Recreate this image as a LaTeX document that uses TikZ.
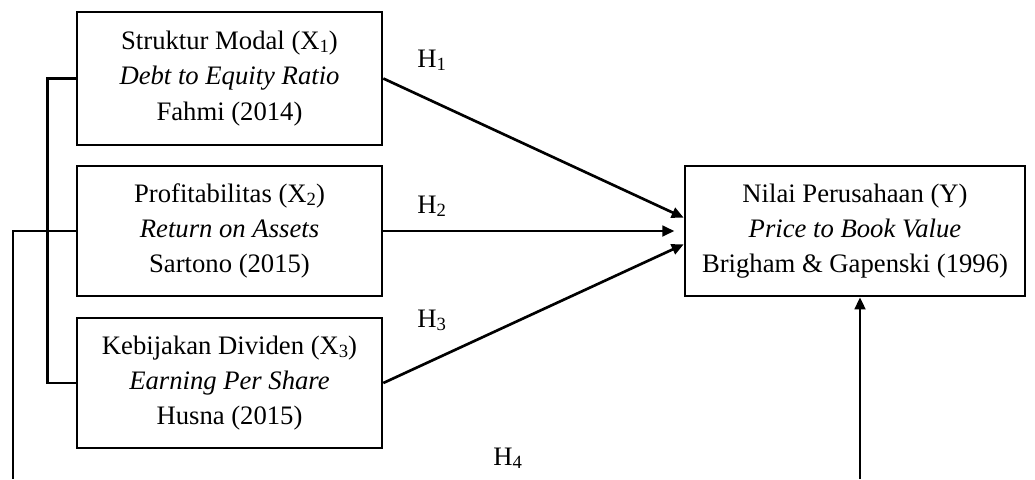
\documentclass[tikz,border=0pt]{standalone}
\usepackage{fontspec}
\setmainfont{Liberation Serif}
\usetikzlibrary{arrows.meta,calc}
\newcommand\subdig[1]{\raisebox{-0.25ex}{\fontsize{14pt}{14pt}\selectfont #1}}
\begin{document}
\begin{tikzpicture}[x=0.75pt,y=-0.75pt,
  box/.style={draw,line width=2pt,align=center,minimum width=305*0.75pt,minimum height=130*0.75pt,inner sep=0pt,font=\fontsize{20pt}{26.5pt}\selectfont},
  conn/.style={line width=2pt},
  arr/.style={conn,-{Triangle[length=9pt,width=8pt]}},
  hlab/.style={anchor=base west,inner sep=0pt,font=\fontsize{20pt}{24pt}\selectfont}]
\useasboundingbox (0,0) rectangle (1035,479);
\node[box,minimum height=133*0.75pt] (b1) at (229.5,78.5) {Struktur Modal (X\subdig{1})\\\textit{Debt to Equity Ratio}\\Fahmi (2014)};
\node[box] (b2) at (229.5,231) {Profitabilitas (X\subdig{2})\\\textit{Return on Assets}\\Sartono (2015)};
\node[box] (b3) at (229.5,383) {Kebijakan Dividen (X\subdig{3})\\\textit{Earning Per Share}\\Husna (2015)};
\node[box,minimum width=340*0.75pt] (y) at (855,231) {Nilai Perusahaan (Y)\\\textit{Price to Book Value}\\Brigham \& Gapenski (1996)};
\node[hlab] (h1) at (417,67) {H\subdig{1}};
\node[hlab] (h2) at (417,213) {H\subdig{2}};
\node[hlab] (h3) at (417,327) {H\subdig{3}};
\node[hlab] (h4) at (493,465) {H\subdig{4}};
\draw[arr] (b1.east) -- ([yshift=10pt]y.west);
\draw[arr] (b2.east) -- ([xshift=-7pt]y.west);
\draw[arr] (b3.east) -- ([yshift=-10pt]y.west);
\draw[conn] (b1.west) -- ++(-28,0) |- (b3.west);
\coordinate (L) at (13,479);
\draw[conn] (b2.west) -| (L);
\coordinate (B) at (860,479);
\draw[arr] (B) -- (B |- y.south);
\end{tikzpicture}
\end{document}
